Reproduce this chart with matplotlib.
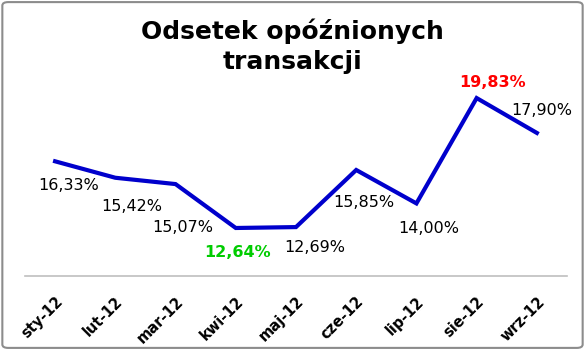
import matplotlib.pyplot as plt
from matplotlib.patches import FancyBboxPatch

# dane
months = ['sty-12', 'lut-12', 'mar-12', 'kwi-12', 'maj-12', 'cze-12', 'lip-12', 'sie-12', 'wrz-12']
values = [16.33, 15.42, 15.07, 12.64, 12.69, 15.85, 14.00, 19.83, 17.90]

# przesunięcia etykiet (piksele, względem punktu)
label_offsets = [(14, -24), (16, -29), (7, -43), (2, -25), (19, -20),
                 (8, -33), (12, -25), (16, 16), (5, 22)]

fig = plt.figure(figsize=(5.85, 3.5), dpi=100)
ax = fig.add_axes([0.0427, 0.2123, 0.9265, 0.5163])

x = range(len(months))
ax.plot(x, values, color='#0000CC', linewidth=3, solid_joinstyle='miter')

i_max = values.index(max(values))
i_min = values.index(min(values))
for i, v in enumerate(values):
    txt = f'{v:.2f}%'.replace('.', ',')
    color, weight = 'black', 'normal'
    if i == i_max:
        color, weight = '#FF0000', 'bold'
    elif i == i_min:
        color, weight = '#00CC00', 'bold'
    dx, dy = label_offsets[i]
    ax.annotate(txt, (i, v), xytext=(dx, dy), textcoords='offset pixels',
                ha='center', va='center', fontsize=11.5, color=color, fontweight=weight)

ax.set_xlim(-0.5, len(months) - 0.5)
ax.set_ylim(10, 20)
ax.set_xticks(list(x))
ax.set_xticklabels(months, rotation=45, ha='right', va='top', rotation_mode='anchor',
                   fontsize=10.5, fontweight='bold')
ax.tick_params(axis='x', length=0, pad=13)
ax.set_yticks([])
for s in ['top', 'left', 'right']:
    ax.spines[s].set_visible(False)
ax.spines['bottom'].set_color('#BFBFBF')
ax.spines['bottom'].set_linewidth(1.2)

fig.text(0.5, 0.868, 'Odsetek opóźnionych\ntransakcji', ha='center', va='center',
         fontsize=18, fontweight='bold', linespacing=1.3)

border = FancyBboxPatch((0.004, 0.006), 0.992, 0.988, boxstyle='round,pad=0,rounding_size=0.01',
                        transform=fig.transFigure, fill=False, edgecolor='#8C8C8C', linewidth=1.5)
fig.patches.append(border)

fig.savefig('out.png', dpi=100)
